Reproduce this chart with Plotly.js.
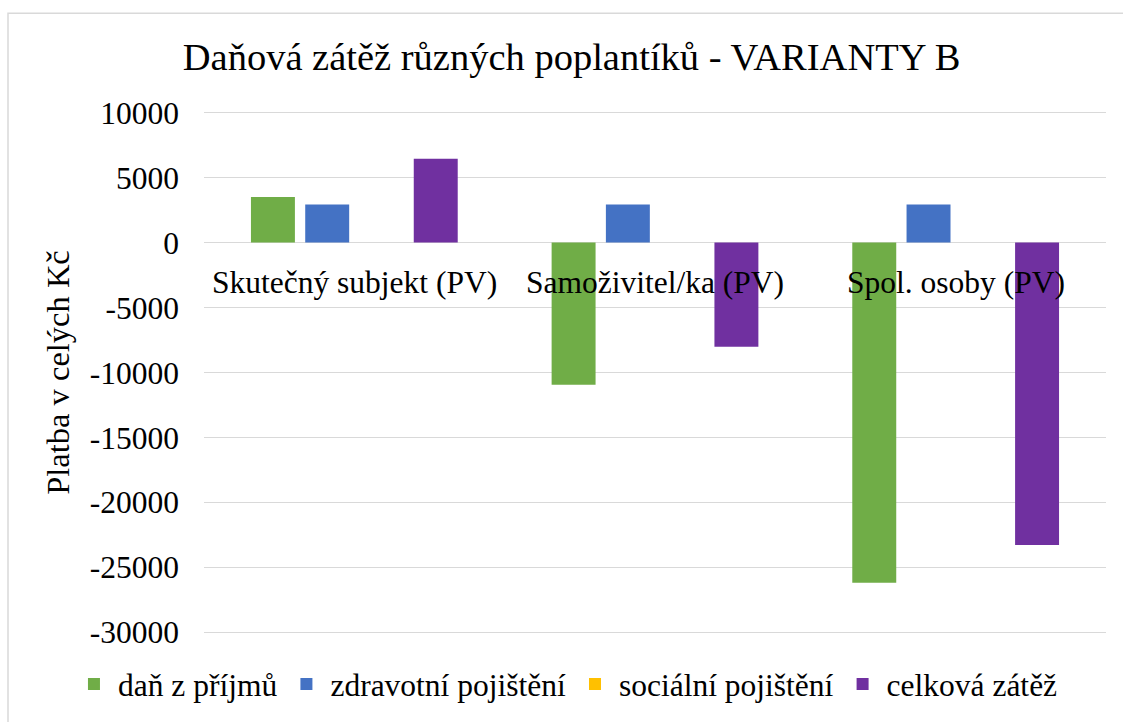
<!DOCTYPE html>
<html>
<head>
<meta charset="utf-8">
<script src="https://cdn.plot.ly/plotly-3.0.1.min.js"></script>
<style>
  html, body { margin: 0; padding: 0; background: #fff; }
  #chart { width: 1123px; height: 722px; }
</style>
</head>
<body>
<div id="chart"></div>
<script>
const categories = ["Skutečný subjekt (PV)", "Samoživitel/ka (PV)", "Spol. osoby (PV)"];
const seriesNames = ["daň z příjmů", "zdravotní pojištění", "sociální pojištění", "celková zátěž"];
const danZPrijmu = [3510, -10940, -26180];
const zdravotniPojisteni = [2925, 2925, 2925];
const socialniPojisteni = [0, 0, 0];
const celkovaZatez = [6450, -8020, -23270];
const tickVals = [10000, 5000, 0, -5000, -10000, -15000, -20000, -25000, -30000];
const tickText = tickVals.map(v => String(v));
const colors = ["#70AD47", "#4472C4", "#FFC000", "#7030A0"];

const FONT = "'Liberation Serif', 'Times New Roman', serif";
const allSeries = [danZPrijmu, zdravotniPojisteni, socialniPojisteni, celkovaZatez];

const traces = allSeries.map((vals, i) => ({
  type: "bar",
  name: seriesNames[i],
  x: categories,
  y: vals,
  marker: { color: colors[i], line: { width: 0 } },
  hoverinfo: "skip"
}));

const annotations = categories.map(c => ({
  x: c, y: 0, xref: "x", yref: "y",
  text: c, showarrow: false,
  yanchor: "top", xanchor: "center",
  yshift: -20,
  font: { family: FONT, size: 31.5, color: "#000" }
}));

const layout = {
  width: 1123, height: 722,
  margin: { l: 204, r: 17, t: 110, b: 86 },
  paper_bgcolor: "#fff", plot_bgcolor: "#fff",
  font: { family: FONT, size: 31.5, color: "#000" },
  title: {
    text: "Daňová zátěž různých poplantíků - VARIANTY B",
    font: { family: FONT, size: 38.5, color: "#000" },
    xref: "container", x: 0.509, xanchor: "center",
    yref: "container", y: 0.922, yanchor: "middle"
  },
  barmode: "group",
  bargap: 0.278,
  bargroupgap: 0.19,
  xaxis: {
    type: "category",
    showticklabels: false,
    showgrid: false,
    showline: false,
    ticks: "",
    fixedrange: true
  },
  yaxis: {
    range: [-30200, 10200],
    tickvals: tickVals,
    ticktext: tickText,
    ticks: "",
    ticklabelstandoff: 24,
    showgrid: true,
    gridcolor: "#d9d9d9",
    gridwidth: 1.5,
    zeroline: true,
    zerolinecolor: "#d9d9d9",
    zerolinewidth: 1.5,
    showline: false,
    automargin: false,
    tickfont: { family: FONT, size: 31.5, color: "#000" },
    title: {
      text: "Platba v celých Kč",
      font: { family: FONT, size: 32.5, color: "#000" },
      standoff: 10
    }
  },
  legend: {
    orientation: "h",
    xref: "paper", yref: "paper",
    x: -0.1486, xanchor: "left",
    y: -0.0915, yanchor: "middle",
    font: { family: FONT, size: 31.5, color: "#000" },
    itemwidth: 38,
    bgcolor: "rgba(0,0,0,0)",
    traceorder: "normal"
  },
  annotations: annotations,
  shapes: [{
    type: "rect", xref: "paper", yref: "paper",
    x0: -0.2173, x1: 1.2, y0: -0.4, y1: 1.1844,
    line: { color: "#d9d9d9", width: 1.5 },
    fillcolor: "rgba(0,0,0,0)",
    layer: "below"
  }],
  showlegend: true
};

Plotly.newPlot("chart", traces, layout, { displayModeBar: false, staticPlot: true });
</script>
</body>
</html>
